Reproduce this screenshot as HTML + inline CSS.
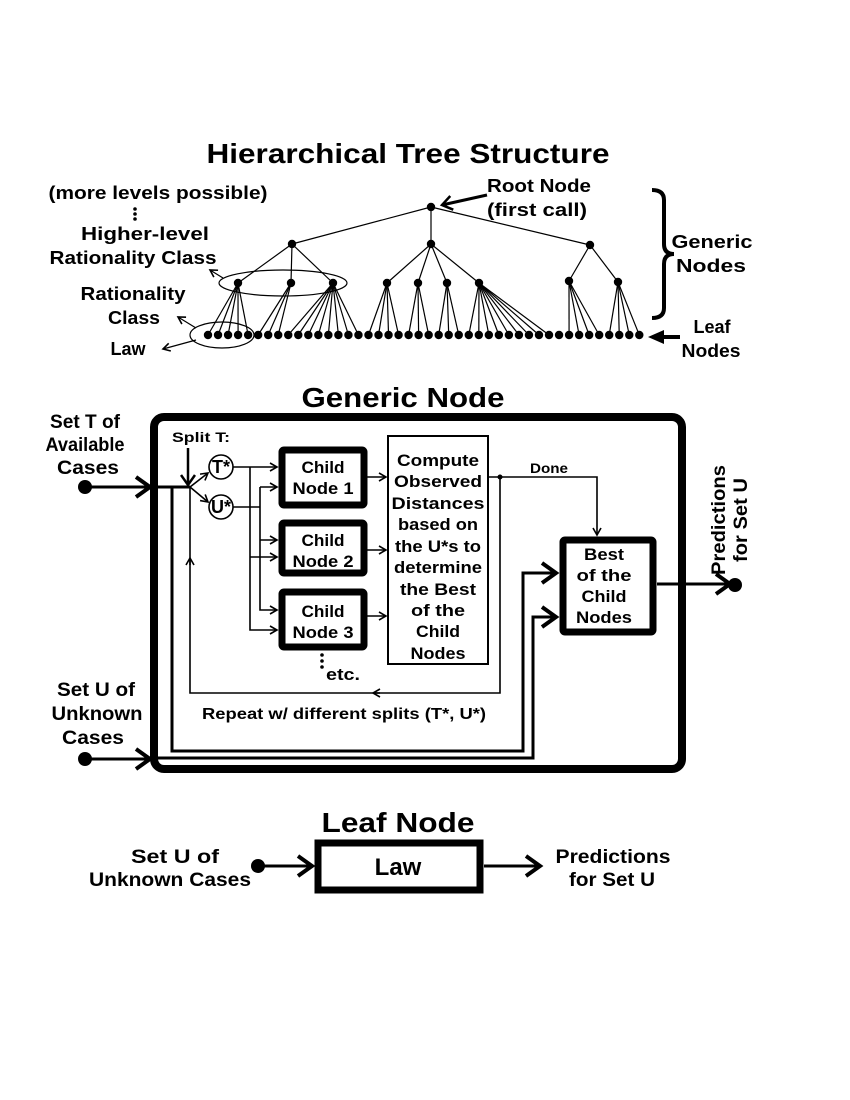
<!DOCTYPE html>
<html><head><meta charset="utf-8"><style>
html,body{margin:0;padding:0;background:#fff;}
svg{display:block;}
text{font-family:"Liberation Sans",sans-serif;font-weight:bold;fill:#000;}
</style></head><body>
<svg id="s" width="850" height="1100" viewBox="0 0 850 1100" xmlns="http://www.w3.org/2000/svg">
<defs>
<marker id="a" markerWidth="10" markerHeight="10" refX="8" refY="5" orient="auto" markerUnits="userSpaceOnUse"><path d="M1,1 L8,5 L1,9" fill="none" stroke="#000" stroke-width="1.6"/></marker>
<marker id="ab" markerWidth="20" markerHeight="24" refX="16" refY="12" orient="auto" markerUnits="userSpaceOnUse"><path d="M2,2 L16,12 L2,22" fill="none" stroke="#000" stroke-width="4"/></marker>
<marker id="am" markerWidth="14" markerHeight="16" refX="11" refY="8" orient="auto" markerUnits="userSpaceOnUse"><path d="M1,1 L11,8 L1,15" fill="none" stroke="#000" stroke-width="2.5"/></marker>
</defs>
<text x="408" y="163" font-size="28" text-anchor="middle" textLength="403" lengthAdjust="spacingAndGlyphs">Hierarchical Tree Structure</text>
<g font-size="18" text-anchor="middle">
<text x="158" y="199" textLength="219" lengthAdjust="spacingAndGlyphs">(more levels possible)</text>
<text x="145" y="240" textLength="128" lengthAdjust="spacingAndGlyphs">Higher-level</text>
<text x="133" y="264" textLength="167" lengthAdjust="spacingAndGlyphs">Rationality Class</text>
<text x="133" y="300" textLength="105" lengthAdjust="spacingAndGlyphs">Rationality</text>
<text x="134" y="324" textLength="52" lengthAdjust="spacingAndGlyphs">Class</text>
<text x="128" y="355">Law</text>
<text x="539" y="192" textLength="104" lengthAdjust="spacingAndGlyphs">Root Node</text>
<text x="537" y="216" textLength="100" lengthAdjust="spacingAndGlyphs">(first call)</text>
<text x="712" y="248" textLength="81" lengthAdjust="spacingAndGlyphs">Generic</text>
<text x="711" y="272" textLength="70" lengthAdjust="spacingAndGlyphs">Nodes</text>
<text x="712" y="333">Leaf</text>
<text x="711" y="357" textLength="59" lengthAdjust="spacingAndGlyphs">Nodes</text>
</g>
<g fill="#000"><circle cx="135" cy="209" r="1.8"/><circle cx="135" cy="214" r="1.8"/><circle cx="135" cy="219" r="1.8"/></g>
<line x1="487" y1="195" x2="442" y2="205" stroke="#000" stroke-width="3" marker-end="url(#am)"/>
<path d="M652,190 Q664,190 664,200 L664,244 Q664,254 674,254 Q664,254 664,264 L664,308 Q664,318 652,318" fill="none" stroke="#000" stroke-width="4"/>
<path d="M648,337 L664,330 L664,344 Z" fill="#000"/><line x1="660" y1="337" x2="680" y2="337" stroke="#000" stroke-width="4"/>
<g id="tree" stroke="#000" stroke-width="1.2"></g>
<ellipse cx="283" cy="283" rx="64" ry="13" fill="none" stroke="#000" stroke-width="1.2"/>
<ellipse cx="222" cy="335" rx="32" ry="13" fill="none" stroke="#000" stroke-width="1.2"/>
<line x1="223" y1="278" x2="210" y2="270" stroke="#000" stroke-width="1.2" marker-end="url(#a)"/>
<line x1="196" y1="328" x2="178" y2="317" stroke="#000" stroke-width="1.2" marker-end="url(#a)"/>
<line x1="196" y1="340" x2="163" y2="349" stroke="#000" stroke-width="1.2" marker-end="url(#a)"/>

<!-- Generic Node -->
<text x="403" y="407" font-size="28" text-anchor="middle" textLength="203" lengthAdjust="spacingAndGlyphs">Generic Node</text>
<rect x="154" y="417" width="528" height="352" rx="10" fill="none" stroke="#000" stroke-width="8"/>
<g font-size="19" text-anchor="middle">
<text x="85" y="428" textLength="70" lengthAdjust="spacingAndGlyphs">Set T of</text><text x="85" y="451" textLength="79" lengthAdjust="spacingAndGlyphs">Available</text><text x="88" y="474" textLength="62" lengthAdjust="spacingAndGlyphs">Cases</text>
<text x="96" y="696" textLength="78" lengthAdjust="spacingAndGlyphs">Set U of</text><text x="97" y="720" textLength="91" lengthAdjust="spacingAndGlyphs">Unknown</text><text x="93" y="744" textLength="62" lengthAdjust="spacingAndGlyphs">Cases</text>
</g>
<circle cx="85" cy="487" r="7"/><line x1="85" y1="487" x2="150" y2="487" stroke="#000" stroke-width="3" marker-end="url(#ab)"/>
<circle cx="85" cy="759" r="7"/><line x1="85" y1="759" x2="150" y2="759" stroke="#000" stroke-width="3" marker-end="url(#ab)"/>
<g fill="none" stroke="#000" stroke-width="3">
<path d="M150,487 L190,487"/>
<path d="M172,487 L172,751 L523,751 L523,573 L556,573" marker-end="url(#ab)"/>
<path d="M150,758 L533,758 L533,617 L556,617" marker-end="url(#ab)"/>
</g>
<text x="172" y="442" font-size="14" textLength="58" lengthAdjust="spacingAndGlyphs">Split T:</text>
<line x1="188" y1="448" x2="188" y2="485" stroke="#000" stroke-width="2.5" marker-end="url(#am)"/>
<g fill="none" stroke="#000" stroke-width="1.6">
<line x1="190" y1="487" x2="208" y2="473" marker-end="url(#a)"/>
<line x1="190" y1="487" x2="208" y2="502" marker-end="url(#a)"/>
<circle cx="221" cy="467" r="12" fill="#fff"/>
<circle cx="221" cy="507" r="12" fill="#fff"/>
<path d="M233,467 L277,467" marker-end="url(#a)"/>
<path d="M250,467 L250,630 L277,630" marker-end="url(#a)"/>
<path d="M250,557 L277,557" marker-end="url(#a)"/>
<path d="M233,507 L260,507"/>
<path d="M260,487 L277,487" marker-end="url(#a)"/>
<path d="M260,487 L260,610 L277,610" marker-end="url(#a)"/>
<path d="M260,540 L277,540" marker-end="url(#a)"/>
<path d="M367,477 L386,477" marker-end="url(#a)"/>
<path d="M367,550 L386,550" marker-end="url(#a)"/>
<path d="M367,616 L386,616" marker-end="url(#a)"/>
<path d="M489,477 L597,477 L597,535" marker-end="url(#a)"/>
<path d="M500,477 L500,693 L190,693 L190,487"/>
<path d="M190,565 L190,558" marker-end="url(#a)"/>
<path d="M380,693 L373,693" marker-end="url(#a)"/>
</g>
<circle cx="500" cy="477" r="2.5"/>
<text x="221" y="473" font-size="18" text-anchor="middle">T*</text>
<text x="221" y="513" font-size="18" text-anchor="middle">U*</text>
<g fill="#fff" stroke="#000" stroke-width="7">
<rect x="282" y="450" width="82" height="55" rx="2"/>
<rect x="282" y="523" width="82" height="50" rx="2"/>
<rect x="282" y="592" width="82" height="55" rx="2"/>
<rect x="563" y="540" width="90" height="92" rx="2"/>
</g>
<rect x="388" y="436" width="100" height="228" fill="#fff" stroke="#000" stroke-width="2"/>
<g font-size="17" text-anchor="middle">
<text x="323" y="473" textLength="43" lengthAdjust="spacingAndGlyphs">Child</text><text x="323" y="494" textLength="61" lengthAdjust="spacingAndGlyphs">Node 1</text>
<text x="323" y="546" textLength="43" lengthAdjust="spacingAndGlyphs">Child</text><text x="323" y="567" textLength="61" lengthAdjust="spacingAndGlyphs">Node 2</text>
<text x="323" y="617" textLength="43" lengthAdjust="spacingAndGlyphs">Child</text><text x="323" y="638" textLength="61" lengthAdjust="spacingAndGlyphs">Node 3</text>
<text x="438" y="466" textLength="82" lengthAdjust="spacingAndGlyphs">Compute</text><text x="438" y="487" textLength="88" lengthAdjust="spacingAndGlyphs">Observed</text><text x="438" y="509" textLength="93" lengthAdjust="spacingAndGlyphs">Distances</text>
<text x="438" y="530" textLength="80" lengthAdjust="spacingAndGlyphs">based on</text><text x="438" y="552" textLength="86" lengthAdjust="spacingAndGlyphs">the U*s to</text><text x="438" y="573" textLength="88" lengthAdjust="spacingAndGlyphs">determine</text>
<text x="438" y="595" textLength="76" lengthAdjust="spacingAndGlyphs">the Best</text><text x="438" y="616" textLength="54" lengthAdjust="spacingAndGlyphs">of the</text><text x="438" y="637" textLength="44" lengthAdjust="spacingAndGlyphs">Child</text><text x="438" y="659" textLength="55" lengthAdjust="spacingAndGlyphs">Nodes</text>
<text x="604" y="560" textLength="40" lengthAdjust="spacingAndGlyphs">Best</text><text x="604" y="581" textLength="55" lengthAdjust="spacingAndGlyphs">of the</text><text x="604" y="602" textLength="45" lengthAdjust="spacingAndGlyphs">Child</text><text x="604" y="623" textLength="56" lengthAdjust="spacingAndGlyphs">Nodes</text>
<text x="343" y="680" textLength="34" lengthAdjust="spacingAndGlyphs">etc.</text>
<text x="549" y="473" font-size="14" textLength="38" lengthAdjust="spacingAndGlyphs">Done</text>
<text x="344" y="719" font-size="16" textLength="284" lengthAdjust="spacingAndGlyphs">Repeat w/ different splits (T*, U*)</text>
</g>
<g fill="#000"><circle cx="322" cy="655" r="1.8"/><circle cx="322" cy="661" r="1.8"/><circle cx="322" cy="667" r="1.8"/></g>
<line x1="657" y1="584" x2="730" y2="584" stroke="#000" stroke-width="3" marker-end="url(#ab)"/>
<circle cx="735" cy="585" r="7"/>
<g font-size="19" text-anchor="middle">
<text transform="translate(725,520) rotate(-90)" textLength="110" lengthAdjust="spacingAndGlyphs">Predictions</text>
<text transform="translate(747,520) rotate(-90)" textLength="84" lengthAdjust="spacingAndGlyphs">for Set U</text>
</g>

<!-- Leaf Node -->
<text x="398" y="832" font-size="28" text-anchor="middle" textLength="153" lengthAdjust="spacingAndGlyphs">Leaf Node</text>
<rect x="318" y="843" width="162" height="47" fill="#fff" stroke="#000" stroke-width="7"/>
<text x="398" y="875" font-size="24" text-anchor="middle">Law</text>
<circle cx="258" cy="866" r="7"/>
<line x1="258" y1="866" x2="312" y2="866" stroke="#000" stroke-width="3" marker-end="url(#ab)"/>
<line x1="484" y1="866" x2="540" y2="866" stroke="#000" stroke-width="3" marker-end="url(#ab)"/>
<g font-size="19" text-anchor="middle">
<text x="175" y="863" textLength="88" lengthAdjust="spacingAndGlyphs">Set U of</text><text x="170" y="886" textLength="162" lengthAdjust="spacingAndGlyphs">Unknown Cases</text>
<text x="613" y="863" textLength="115" lengthAdjust="spacingAndGlyphs">Predictions</text><text x="612" y="886" textLength="86" lengthAdjust="spacingAndGlyphs">for Set U</text>
</g>
</svg>
<script>
(function(){
var g=document.getElementById('tree'),h='';
function L(a,b,c,d){h+='<line x1="'+a+'" y1="'+b+'" x2="'+c+'" y2="'+d+'"/>';}
function C(x,y){h+='<circle cx="'+x+'" cy="'+y+'" r="4.2" fill="#000" stroke="none"/>';}
var root=[431,207],l2=[[292,244],[431,244],[590,245]];
var l3=[[238,283,0,0,4],[291,283,0,5,7],[333,283,0,8,15],[387,283,1,16,19],[418,283,1,20,22],[447,283,1,23,25],[479,283,1,26,34],[569,281,2,36,39],[618,282,2,40,43]];
l2.forEach(function(p){L(root[0],root[1],p[0],p[1]);});
var lx=function(i){return 208+i*10.03;};
l3.forEach(function(n){L(l2[n[2]][0],l2[n[2]][1],n[0],n[1]);for(var i=n[3];i<=n[4];i++)L(n[0],n[1],lx(i),335);});
C(root[0],root[1]);l2.forEach(function(p){C(p[0],p[1]);});l3.forEach(function(n){C(n[0],n[1]);});
for(var i=0;i<44;i++)C(lx(i),335);
g.innerHTML=h;
})();
</script>
</body></html>
